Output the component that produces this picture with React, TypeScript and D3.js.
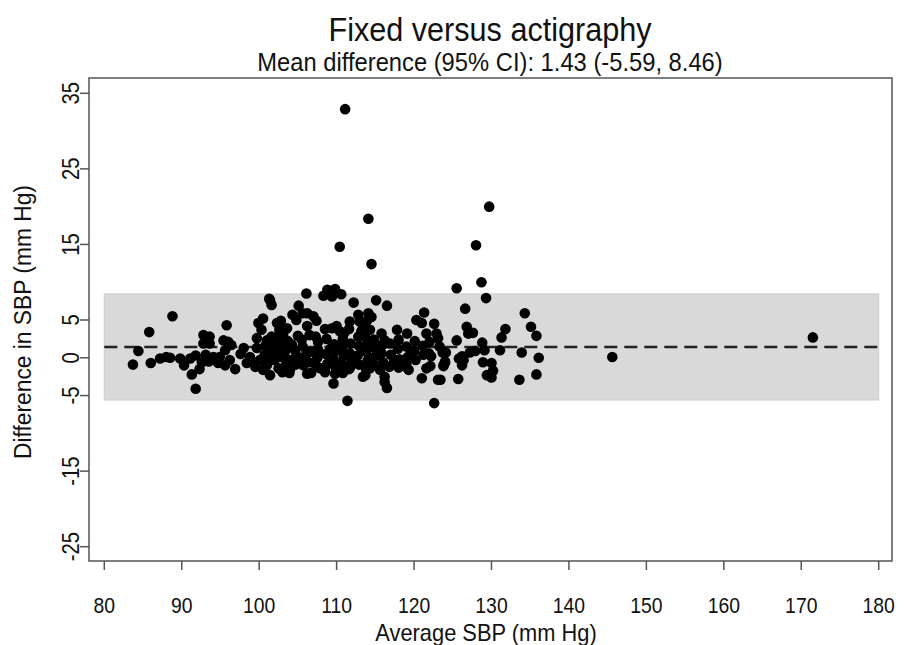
import { useEffect, useRef } from "react";
import * as d3 from "d3";

// Bland-Altman style: average SBP vs difference in SBP
const avgSBP: number[] = [
  // sparse left side
  83.7, 84.4, 85.8, 86.0, 88.8, 87.2, 88.0, 88.5, 89.8, 90.3, 91.1, 91.8, 91.3, 91.8, 92.3, 92.6,
  92.8, 93.6, 92.8, 93.6, 93.1, 94.1, 93.5, 95.8, 95.4, 96.0, 96.4, 95.6, 96.2, 95.6, 96.9, 94.9,
  94.7, 98.0, 98.4, 98.8, 99.7, 99.5,
  // 97-104
  99.9, 100.5, 100.3, 101.4, 101.6, 102.3, 102.7, 101.0, 101.8, 103.1, 103.5, 100.1, 100.7, 101.6,
  102.0, 102.9, 100.5, 101.4, 102.5, 103.5, 99.7, 102.3, 97.6, 99.0, 101.0, 103.0,
  // top outline of main cluster
  105.1, 106.1, 108.3, 108.8, 109.8, 110.6, 109.4, 112.2, 115.1, 116.5, 121.3, 125.5, 126.6, 101.3,
  // second layer
  102.8, 104.3, 105.6, 106.2, 107.0, 112.8, 114.1, 114.5, 120.3, 121.0, 122.6, 126.8,
  // third layer
  102.6, 103.6, 103.1, 101.6, 102.5, 109.4, 110.0, 110.4, 111.7, 111.6, 113.0, 113.9, 113.4, 114.3,
  113.2, 113.7, 115.8, 116.2, 117.8, 119.1, 121.6, 122.9, 123.1, 127.0, 125.5, 106.2, 107.4, 104.8,
  108.5, 111.0,
  // middle band
  101.7, 101.3, 102.8, 103.7, 103.9, 104.0, 104.6, 104.8, 104.7, 105.5, 105.6, 105.5, 105.7, 106.5,
  106.6, 106.4, 106.7, 107.6, 107.6, 107.5, 107.7, 108.7, 108.6, 108.8, 108.5, 109.7, 109.8, 109.6,
  109.9, 110.8, 110.7, 110.9, 110.6, 110.8, 111.8, 111.7, 111.9, 111.6, 112.8, 112.9, 112.7, 112.9,
  113.9, 113.8, 114.0, 113.8, 114.8, 114.9, 114.7, 115.0, 115.9, 115.8, 116.0, 116.9, 117.0, 116.8,
  118.0, 117.9, 118.1, 119.0, 119.2, 119.0, 120.1, 120.0, 120.2, 121.1, 121.2, 122.0, 122.2, 122.1,
  123.3, 121.9, 123.8, 124.0, 126.4,
  100.8, 101.2, 102.2, 103.3, 104.2, 104.4, 105.0, 106.0, 107.1, 107.3, 109.2, 110.2, 112.3, 113.3,
  115.3, 117.4, 119.6,
  // lower band
  103.1, 103.9, 106.2, 107.9, 108.5, 109.8, 110.9, 111.7, 113.4, 114.3, 113.7, 115.6, 116.2, 118.0,
  118.8, 119.3, 121.0, 121.6, 123.1, 125.7,
  // below the cluster
  109.6, 111.4, 122.6, 116.2, 116.5,
  // right side
  129.7, 128.0, 128.7, 129.3, 134.3, 127.6, 135.1, 131.8, 135.8, 131.3, 128.8, 123.7, 124.1, 129.1,
  131.1, 133.9, 127.9, 127.2, 126.2, 125.8, 145.6, 136.1, 124.0, 123.8, 126.2, 128.9, 130.0, 130.2,
  129.4, 130.0, 135.8, 123.4, 133.6, 171.5,
  // high outliers
  111.1, 114.1, 110.4, 114.5,
];

const diffSBP: number[] = [
  -0.9, 0.9, 3.4, -0.7, 5.5, -0.1, 0.1, 0.0, -0.1, -1.0, -0.1, 0.3, -2.2, -4.1, -1.5, -0.6,
  3.0, 2.8, 1.9, 1.9, 0.4, 0.1, -0.5, 4.3, 2.3, 2.1, 1.7, 1.0, -0.3, -1.0, -1.5, 0.1,
  -0.7, 1.3, -0.7, 0.1, 2.6, -1.2,
  4.6, 5.2, 3.7, 7.6, 7.0, 4.6, 3.7, 2.3, 1.9, 2.8, 1.5, -0.3, 0.4, 0.8,
  -0.3, 0.1, -1.6, -2.3, -1.4, -0.9, 1.3, 1.3, 0.5, -0.5, -1.0, -1.9,
  6.9, 8.5, 8.2, 9.0, 9.1, 8.4, 8.1, 7.3, 7.6, 6.9, 6.0, 9.2, 6.5, 7.8,
  4.9, 5.7, 5.9, 5.9, 5.5, 5.7, 5.9, 5.4, 5.0, 4.6, 4.5, 4.1,
  3.7, 3.9, 3.2, 2.8, 2.1, 3.9, 4.2, 3.5, 4.8, 3.8, 4.8, 4.9, 3.9, 3.7,
  3.5, 2.8, 3.2, 2.3, 3.7, 3.2, 3.2, 3.2, 2.6, 3.2, 2.3, 4.2, 4.9, 5.0,
  3.8, 3.3,
  1.3, -0.4, 0.6, 2.2, -0.3, -1.5, 1.0, 0.3, -0.9, 2.4, 1.5, -0.2, -1.0, 3.0,
  0.8, -0.6, -2.0, 2.1, 1.1, 0.0, -1.3, 2.5, 0.5, -0.8, -1.9, 1.8, 0.9, -0.2,
  -1.4, 2.5, 1.4, 0.3, -0.7, -2.0, 1.9, 0.6, -0.5, -1.5, 2.8, 1.6, 0.3, -0.9,
  1.8, 0.8, -0.4, -1.5, 2.4, 1.3, 0.0, -1.0, 1.7, 0.6, -0.6, 1.9, 0.4, -1.2,
  2.4, 1.2, -0.2, 1.5, 0.1, -0.8, 2.2, 0.9, -0.3, 1.6, 0.4, 2.1, 0.2, -1.1,
  1.5, 0.6, -1.0, -0.5, -0.3,
  1.6, 0.2, 2.6, 0.8, 1.8, -0.5, 2.9, 0.3, -0.7, 2.8, 1.2, -1.0, -0.2, 0.9,
  0.4, -0.6, 0.8,
  -1.4, -2.0, -2.1, -1.4, -1.4, -2.1, -1.2, -1.4, -2.5, -1.4, -2.3, -1.6, -2.5, -1.3,
  -1.1, -1.6, -2.7, -1.4, -2.9, -2.8,
  -3.4, -5.7, -6.0, -3.2, -4.0,
  20.0, 14.9, 10.0, 7.9, 5.9, 3.3, 4.1, 3.8, 2.9, 2.7, 2.0, 0.7, 0.7, 1.0,
  1.0, 0.7, 0.9, 0.7, 0.2, -0.1, 0.1, 0.0, -0.7, -1.1, -1.0, -0.6, -0.7, -1.7,
  -2.3, -2.6, -2.2, -2.9, -2.9, 2.7,
  32.9, 18.4, 14.7, 12.4,
];

const meanDiff = 1.43;
const loa: [number, number] = [-5.59, 8.46];

const xTicks = [80, 90, 100, 110, 120, 130, 140, 150, 160, 170, 180];
const yTicks = [35, 25, 15, 5, 0, -5, -15, -25];

const title = "Fixed versus actigraphy";
const subtitle = "Mean difference (95% CI): 1.43 (-5.59, 8.46)";
const xLabel = "Average SBP (mm Hg)";
const yLabel = "Difference in SBP (mm Hg)";

const FONT = "'Liberation Sans', Arial, sans-serif";

export default function App() {
  const svgRef = useRef<SVGSVGElement>(null);

  useEffect(() => {
    if (!svgRef.current) return;
    const svg = d3.select(svgRef.current);
    svg.selectAll("*").remove();

    const width = 904;
    const height = 645;
    svg.attr("width", width).attr("height", height);

    // plot region box
    const box = { left: 89, right: 892, top: 78, bottom: 561 };

    const x = d3.scaleLinear().domain([80, 180]).range([104.3, 878.7]);
    const y = d3.scaleLinear().domain([35, -25]).range([93.3, 546.7]);

    svg.append("rect").attr("width", width).attr("height", height).attr("fill", "#fff");

    // limits of agreement band
    svg
      .append("rect")
      .attr("x", x(80))
      .attr("y", y(loa[1]))
      .attr("width", x(180) - x(80))
      .attr("height", y(loa[0]) - y(loa[1]))
      .attr("fill", "#d9d9d9")
      .attr("stroke", "#cdcdcd")
      .attr("stroke-width", 1);

    // mean difference
    svg
      .append("line")
      .attr("x1", x(80))
      .attr("x2", x(180))
      .attr("y1", y(meanDiff))
      .attr("y2", y(meanDiff))
      .attr("stroke", "#222")
      .attr("stroke-width", 2.5)
      .attr("stroke-dasharray", "13,7");

    // points
    svg
      .append("g")
      .selectAll("circle")
      .data(d3.range(avgSBP.length))
      .join("circle")
      .attr("cx", (i) => x(avgSBP[i]))
      .attr("cy", (i) => y(diffSBP[i]))
      .attr("r", 5.3)
      .attr("fill", "#000");

    // frame
    svg
      .append("rect")
      .attr("x", box.left)
      .attr("y", box.top)
      .attr("width", box.right - box.left)
      .attr("height", box.bottom - box.top)
      .attr("fill", "none")
      .attr("stroke", "#555")
      .attr("stroke-width", 1.5);

    // x ticks
    const xt = svg.append("g");
    xTicks.forEach((t) => {
      xt.append("line")
        .attr("x1", x(t))
        .attr("x2", x(t))
        .attr("y1", box.bottom)
        .attr("y2", box.bottom + 9)
        .attr("stroke", "#555")
        .attr("stroke-width", 1.5);
      xt.append("text")
        .attr("transform", `translate(${x(t)},613) scale(0.88,1)`)
        .attr("text-anchor", "middle")
        .attr("font-family", FONT)
        .attr("font-size", "22px")
        .attr("fill", "#111")
        .text(String(t));
    });

    // y ticks
    const yt = svg.append("g");
    yTicks.forEach((t) => {
      yt.append("line")
        .attr("x1", box.left - 9)
        .attr("x2", box.left)
        .attr("y1", y(t))
        .attr("y2", y(t))
        .attr("stroke", "#555")
        .attr("stroke-width", 1.5);
      yt.append("text")
        .attr("transform", `translate(79,${y(t)}) rotate(-90) scale(0.88,1)`)
        .attr("text-anchor", "middle")
        .attr("font-family", FONT)
        .attr("font-size", "23px")
        .attr("fill", "#111")
        .text(String(t));
    });

    // titles
    svg
      .append("text")
      .attr("transform", "translate(490,41) scale(0.9,1)")
      .attr("text-anchor", "middle")
      .attr("font-family", FONT)
      .attr("font-size", "34px")
      .attr("fill", "#111")
      .text(title);

    svg
      .append("text")
      .attr("transform", "translate(490,71) scale(0.95,1)")
      .attr("text-anchor", "middle")
      .attr("font-family", FONT)
      .attr("font-size", "25px")
      .attr("fill", "#111")
      .text(subtitle);

    svg
      .append("text")
      .attr("transform", "translate(486,641) scale(0.95,1)")
      .attr("text-anchor", "middle")
      .attr("font-family", FONT)
      .attr("font-size", "23px")
      .attr("fill", "#111")
      .text(xLabel);

    svg
      .append("text")
      .attr("transform", "translate(31,322) rotate(-90) scale(0.95,1)")
      .attr("text-anchor", "middle")
      .attr("font-family", FONT)
      .attr("font-size", "24px")
      .attr("fill", "#111")
      .text(yLabel);
  }, []);

  return (
    <svg
      ref={svgRef}
      style={{ position: "absolute", left: 0, top: 0, display: "block" }}
    />
  );
}
